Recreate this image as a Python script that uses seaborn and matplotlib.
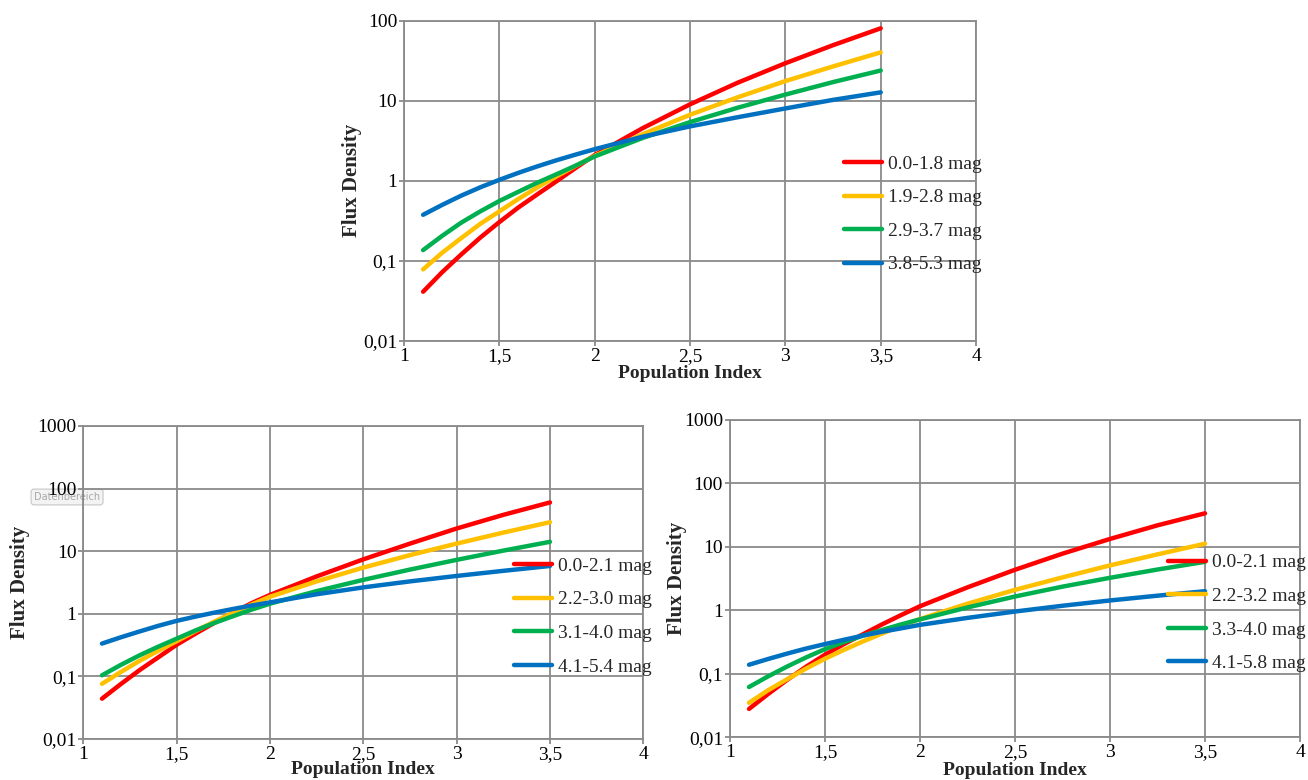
import matplotlib
matplotlib.use("Agg")
import matplotlib.pyplot as plt
from matplotlib.ticker import NullLocator
import pandas as pd
import seaborn as sns

# Population index values at which flux density was evaluated
population_index = [1.1, 1.2, 1.3, 1.4, 1.5, 1.6, 1.7, 1.8, 1.9, 2.0,
                    2.25, 2.5, 2.75, 3.0, 3.25, 3.5]

# Upper panel
top_labels = ["0.0-1.8 mag", "1.9-2.8 mag", "2.9-3.7 mag", "3.8-5.3 mag"]
top_red = [0.041, 0.072, 0.12, 0.195, 0.305, 0.465, 0.68, 0.99, 1.45, 2.1,
           4.54, 9.06, 16.9, 29.6, 49.8, 81.0]
top_yellow = [0.078, 0.126, 0.192, 0.29, 0.415, 0.595, 0.83, 1.14, 1.54, 2.05,
              3.82, 6.71, 11.1, 17.7, 27.0, 40.5]
top_green = [0.136, 0.205, 0.30, 0.415, 0.56, 0.73, 0.95, 1.21, 1.55, 2.02,
             3.43, 5.43, 8.22, 12.0, 17.2, 24.0]
top_blue = [0.376, 0.50, 0.653, 0.83, 1.03, 1.26, 1.52, 1.81, 2.13, 2.49,
            3.56, 4.8, 6.25, 8.05, 10.3, 12.8]

# Lower left panel
left_labels = ["0.0-2.1 mag", "2.2-3.0 mag", "3.1-4.0 mag", "4.1-5.4 mag"]
left_red = [0.044, 0.075, 0.125, 0.20, 0.32, 0.48, 0.71, 1.03, 1.47, 2.0,
            3.95, 7.4, 13.2, 23.0, 38.0, 60.0]
left_yellow = [0.076, 0.117, 0.176, 0.255, 0.364, 0.527, 0.745, 1.03, 1.40, 1.87,
               3.29, 5.46, 8.65, 13.2, 19.8, 29.0]
left_green = [0.104, 0.152, 0.216, 0.297, 0.40, 0.54, 0.71, 0.91, 1.16, 1.45,
              2.3, 3.48, 5.08, 7.26, 10.2, 14.1]
left_blue = [0.334, 0.42, 0.52, 0.64, 0.77, 0.90, 1.04, 1.19, 1.35, 1.52,
             2.05, 2.64, 3.29, 4.02, 4.85, 5.8]

# Lower right panel
right_labels = ["0.0-2.1 mag", "2.2-3.2 mag", "3.3-4.0 mag", "4.1-5.8 mag"]
right_red = [0.028, 0.048, 0.080, 0.129, 0.20, 0.294, 0.42, 0.60, 0.84, 1.16,
             2.3, 4.35, 7.8, 13.3, 21.8, 33.7]
right_yellow = [0.035, 0.055, 0.082, 0.121, 0.173, 0.239, 0.324, 0.43, 0.57, 0.73,
                1.27, 2.1, 3.3, 5.1, 7.6, 11.2]
right_green = [0.062, 0.091, 0.13, 0.181, 0.245, 0.316, 0.40, 0.49, 0.60, 0.72,
               1.11, 1.65, 2.36, 3.25, 4.39, 5.8]
right_blue = [0.139, 0.171, 0.208, 0.25, 0.294, 0.344, 0.40, 0.46, 0.52, 0.59,
              0.76, 0.957, 1.18, 1.43, 1.70, 2.0]

x_ticks = [1, 1.5, 2, 2.5, 3, 3.5, 4]
x_tick_labels = ["1", "1,5", "2", "2,5", "3", "3,5", "4"]
top_y_ticks = [0.01, 0.1, 1, 10, 100]
top_y_tick_labels = ["0,01", "0,1", "1", "10", "100"]
bottom_y_ticks = [0.01, 0.1, 1, 10, 100, 1000]
bottom_y_tick_labels = ["0,01", "0,1", "1", "10", "100", "1000"]

line_colors = ["#FF0000", "#FFC000", "#00B050", "#0070C0"]
grid_color = "#8a8a8a"

sns.set_style("white")
plt.rcParams["font.family"] = ["Liberation Serif", "DejaVu Serif"]

fig = plt.figure(figsize=(13.08, 7.8), dpi=100)
fig.patch.set_facecolor("white")


def draw_panel(rect, labels, series, yticks, yticklabels, legend_xy, ylabel_x, xlabel_y):
    ax = fig.add_axes(rect)
    ax.set_facecolor("none")
    frames = [
        pd.DataFrame({"Population Index": population_index, "Flux Density": vals, "Range": lab})
        for lab, vals in zip(labels, series)
    ]
    df = pd.concat(frames, ignore_index=True)
    sns.lineplot(
        data=df, x="Population Index", y="Flux Density", hue="Range",
        palette=dict(zip(labels, line_colors)), linewidth=3.2,
        solid_capstyle="round", solid_joinstyle="round", legend=False, ax=ax,
    )
    ax.set_yscale("log")
    ax.set_xlim(1, 4)
    ax.set_ylim(yticks[0], yticks[-1])
    ax.set_xticks(x_ticks, x_tick_labels)
    ax.set_yticks(yticks, yticklabels)
    ax.yaxis.set_minor_locator(NullLocator())
    ax.grid(True, color=grid_color, linewidth=1.3)
    for s in ax.spines.values():
        s.set_color(grid_color)
        s.set_linewidth(1.3)
    ax.tick_params(axis="both", which="major", direction="out", length=3.5, width=1.3,
                   color=grid_color, labelcolor="black", labelsize=14, pad=1.5,
                   left=True, bottom=True)
    ax.set_xlabel("Population Index", fontsize=14, fontweight="bold")
    ax.set_ylabel("Flux Density", fontsize=15, fontweight="bold")
    ax.xaxis.label.set_va("center")
    ax.yaxis.label.set_va("center")
    ax.xaxis.set_label_coords(0.5, xlabel_y)
    ax.yaxis.set_label_coords(ylabel_x, 0.5)
    ax.legend(ax.lines[:4], labels, loc="upper left", bbox_to_anchor=legend_xy,
              bbox_transform=fig.transFigure, frameon=False, fontsize=14,
              handlelength=1.95, handletextpad=0.3, labelspacing=0.82,
              borderpad=0, borderaxespad=0)
    return ax


draw_panel([0.3089, 0.5632, 0.4373, 0.4099], top_labels,
           [top_red, top_yellow, top_green, top_blue],
           top_y_ticks, top_y_tick_labels, (0.6453, 0.801), -0.091, -0.104)
draw_panel([0.0637, 0.0526, 0.4281, 0.4013], left_labels,
           [left_red, left_yellow, left_green, left_blue],
           bottom_y_ticks, bottom_y_tick_labels, (0.393, 0.2856), -0.113, -0.099)
draw_panel([0.5581, 0.0547, 0.4358, 0.4071], right_labels,
           [right_red, right_yellow, right_green, right_blue],
           bottom_y_ticks, bottom_y_tick_labels, (0.893, 0.2899), -0.093, -0.103)

# Spreadsheet tooltip left over beside the "100" label
fig.text(34 / 1308, 1 - 497 / 780, "Datenbereich", fontsize=7, color="#a8a8a8",
         family="DejaVu Sans", ha="left", va="center", zorder=-1,
         bbox=dict(boxstyle="round,pad=0.3", fc="#f3f3f3", ec="#c6c6c6", lw=0.8))

fig.savefig("out.png", dpi=100, facecolor="white")
